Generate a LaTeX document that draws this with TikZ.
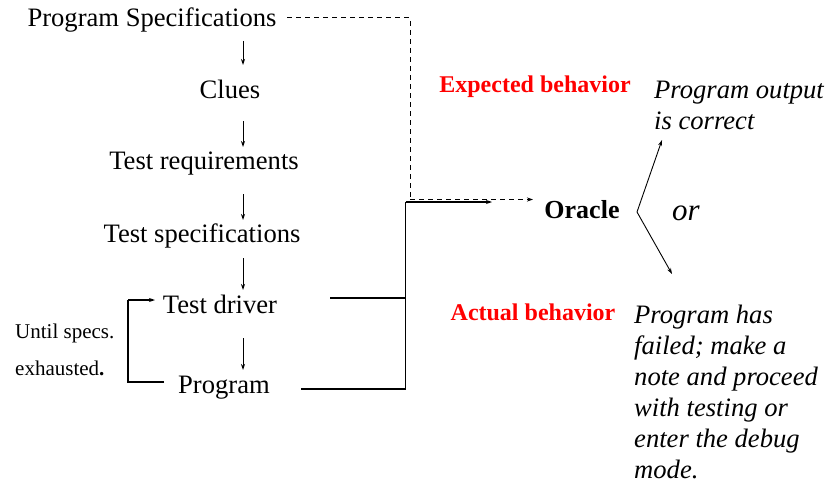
\documentclass[tikz,border=0pt]{standalone}
\usepackage{fontspec}
\setmainfont{Liberation Serif}
\usetikzlibrary{arrows.meta}
\begin{document}
\begin{tikzpicture}[x=1pt,y=-1pt,
  lbl/.style={inner sep=0pt,anchor=base,font=\fontsize{26.6}{32}\selectfont},
  smalllbl/.style={inner sep=0pt,anchor=base west,font=\fontsize{21}{25}\selectfont},
  redlbl/.style={inner sep=0pt,anchor=base,text=red,font=\fontsize{24}{28}\selectfont\bfseries},
  itl/.style={inner sep=0pt,anchor=base west,font=\fontsize{26.6}{31}\selectfont\itshape,align=left},
  arr/.style={line width=0.9pt,-{Stealth[length=6pt,width=4pt]}},
  conn/.style={line width=1.3pt},
  dashline/.style={line width=1pt,dash pattern=on 5pt off 4pt}]
\useasboundingbox (0,0) rectangle (829,487);
% main chain
\node[lbl] (spec) at (152,27) {Program Specifications};
\node[lbl] (clues) at (230,98) {Clues};
\node[lbl] (req) at (204,169) {Test requirements};
\node[lbl] (tspec) at (202,242) {Test specifications};
\node[lbl] (drv) at (220,313) {Test driver};
\node[lbl] (prog) at (224,393) {Program};
\node[smalllbl] (until) at (15,338) {Until specs.};
\node[smalllbl] (exh) at (15,375) {exhausted\textbf{.}};
% vertical arrows
\coordinate (a1s) at (243,41); \coordinate (a1e) at (243,65);
\coordinate (a2s) at (243,121); \coordinate (a2e) at (243,147);
\coordinate (a3s) at (243,194); \coordinate (a3e) at (243,220);
\coordinate (a4s) at (243,258); \coordinate (a4e) at (243,290);
\coordinate (a5s) at (243,338); \coordinate (a5e) at (243,370);
\draw[arr] (a1s) -- (a1e);
\draw[arr] (a2s) -- (a2e);
\draw[arr] (a3s) -- (a3e);
\draw[arr] (a4s) -- (a4e);
\draw[arr] (a5s) -- (a5e);
% loop
\coordinate (lp1) at (164,382);
\coordinate (lp2) at (128,382);
\coordinate (lp3) at (128,300);
\coordinate (lp4) at (155,300);
\draw[line width=1.1pt] (lp1) -- (lp2) -- (lp3);
\draw[line width=1.1pt,-{Stealth[length=6pt,width=4pt]}] (lp3) -- (lp4);
% oracle
\node[inner sep=0pt,anchor=base,font=\fontsize{26}{30}\selectfont\bfseries] (oracle) at (582,218) {Oracle};
% solid connectors
\coordinate (d1) at (330,298);
\coordinate (p1) at (301,389);
\coordinate (jn) at (405.5,298);
\coordinate (jb) at (405.5,389);
\coordinate (jt) at (405.5,202);
\coordinate (se) at (492,202);
\draw[conn] (d1) -- (jn);
\draw[conn] (p1) -- (jb) -- (jt);
\draw[conn,-{Stealth[length=6pt,width=4pt]}] (jt) -- (se);
% dashed connector
\coordinate (s1) at (287,18);
\coordinate (s2) at (410,18);
\coordinate (s3) at (410,199.5);
\coordinate (s4) at (533,199.5);
\draw[dashline] (s1) -- (s2) -- (s3);
\draw[dashline,-{Stealth[length=6pt,width=4pt]}] (s3) -- (s4);
% outputs
\node[redlbl] (exp) at (535,92) {Expected behavior};
\node[redlbl] (act) at (533,320) {Actual behavior};
\node[itl] (ok) at (654,129) {Program output\\is correct};
\node[itl] (fail) at (634,478) {Program has\\failed; make a\\note and proceed\\with testing or\\enter the debug\\mode.};
\node[inner sep=0pt,anchor=base,font=\fontsize{31}{36}\selectfont\itshape] (or) at (686,220) {or};
\coordinate (v) at (637,212);
\coordinate (up) at (662,140);
\coordinate (dn) at (672,274);
\draw[arr] (v) -- (up);
\draw[arr] (v) -- (dn);
\end{tikzpicture}
\end{document}
